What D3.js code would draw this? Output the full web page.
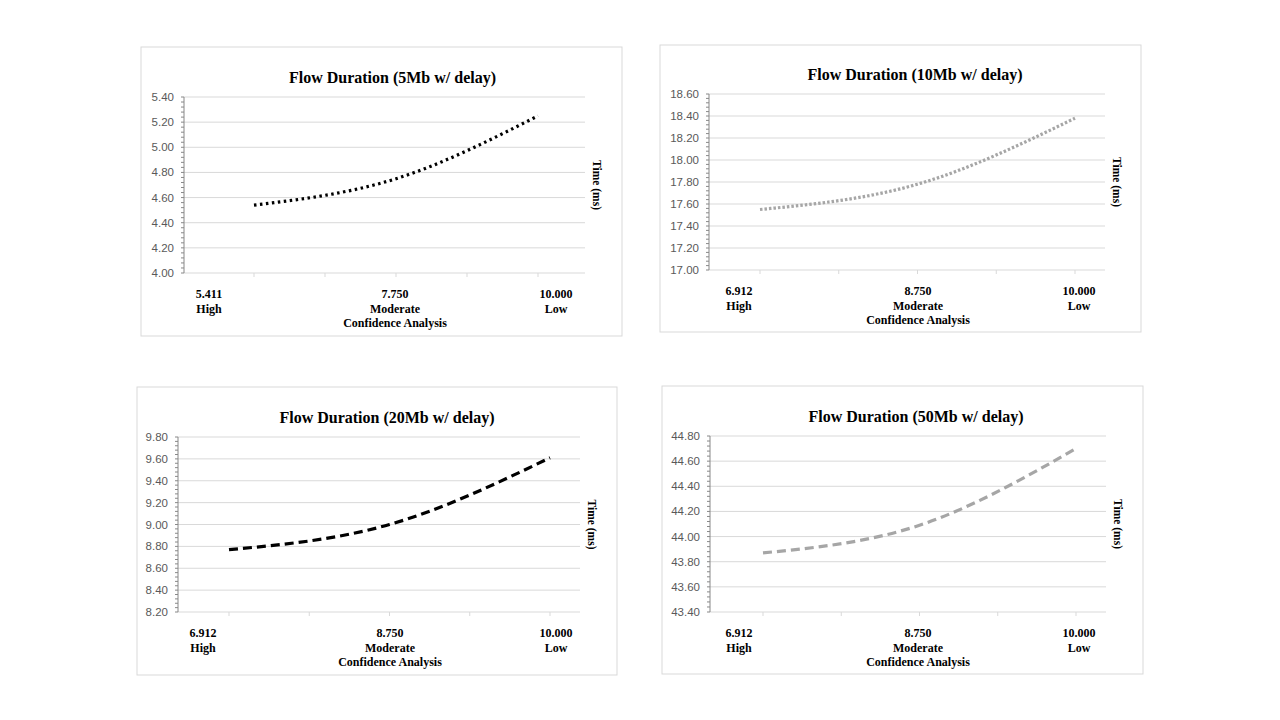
<!DOCTYPE html>
<html><head><meta charset="utf-8">
<script src="https://cdn.jsdelivr.net/npm/d3@7"></script>
<style>body{margin:0;background:#fff}</style>
</head><body>
<div id="chart"></div>
<script>
// chart data
var titles = ["Flow Duration (5Mb w/ delay)", "Flow Duration (10Mb w/ delay)", "Flow Duration (20Mb w/ delay)", "Flow Duration (50Mb w/ delay)"];
var xLabels = [["5.411", "7.750", "10.000"], ["6.912", "8.750", "10.000"], ["6.912", "8.750", "10.000"], ["6.912", "8.750", "10.000"]];
var levels = ["High", "Moderate", "Low"];
var series = [[4.54, 4.75, 5.25], [17.55, 17.78, 18.38], [8.77, 9.00, 9.61], [43.87, 44.09, 44.70]];
var yMin = [4.0, 17.0, 8.2, 43.4];
var yMax = [5.4, 18.6, 9.8, 44.8];
var yStep = [0.2, 0.2, 0.2, 0.2];

// layout per panel
var boxes = [
  {x: 141, y: 47, w: 481, h: 289, l: 184, r: 585, t: 97, b: 273, p0: 254, p2: 538, lab: [209, 395, 556]},
  {x: 660, y: 45, w: 481, h: 287, l: 709, r: 1105, t: 94, b: 270, p0: 760, p2: 1075, lab: [739, 918, 1079]},
  {x: 137, y: 387, w: 480, h: 288, l: 178, r: 580, t: 437, b: 612, p0: 229, p2: 550, lab: [203, 390, 556]},
  {x: 662, y: 386, w: 481, h: 288, l: 710, r: 1106, t: 436, b: 612, p0: 763, p2: 1076, lab: [739, 918, 1079]}
];
var styles = [
  {color: "#000", dash: "2.5,3.5", width: 3.2},
  {color: "#a6a6a6", dash: "2.5,2", width: 3.2},
  {color: "#000", dash: "9,5", width: 3.2},
  {color: "#a6a6a6", dash: "9,5", width: 3.2}
];

var svg = d3.select("#chart").append("svg").attr("width", 1280).attr("height", 720);

boxes.forEach(function(bx, i) {
  var g = svg.append("g");
  g.append("rect").attr("x", bx.x).attr("y", bx.y).attr("width", bx.w).attr("height", bx.h)
    .attr("fill", "#fff").attr("stroke", "#d9d9d9");

  var y = d3.scaleLinear().domain([yMin[i], yMax[i]]).range([bx.b, bx.t]);
  var x = d3.scalePoint().domain(d3.range(3)).range([bx.p0, bx.p2]);
  var ticks = d3.range(yMin[i], yMax[i] + 1e-9, yStep[i]);

  // gridlines
  g.selectAll(".grid").data(ticks).enter().append("line")
    .attr("x1", bx.l).attr("x2", bx.r)
    .attr("y1", function(d) { return y(d); }).attr("y2", function(d) { return y(d); })
    .attr("stroke", "#d9d9d9");

  // y axis with minor ticks
  var minor = d3.range(yMin[i], yMax[i] + 1e-9, yStep[i] / 5);
  g.selectAll(".mt").data(minor).enter().append("line")
    .attr("x1", bx.l - 3).attr("x2", bx.l)
    .attr("y1", function(d) { return y(d); }).attr("y2", function(d) { return y(d); })
    .attr("stroke", "#888");
  g.append("line").attr("x1", bx.l).attr("x2", bx.l).attr("y1", bx.t).attr("y2", bx.b).attr("stroke", "#888");
  g.selectAll(".yl").data(ticks).enter().append("text")
    .attr("x", bx.l - 10).attr("y", function(d) { return y(d) + 4; })
    .attr("text-anchor", "end").attr("font-family", "Liberation Sans, Arial").attr("font-size", 11.5)
    .attr("fill", "#595959").text(function(d) { return d.toFixed(2); });

  // x minor ticks
  var step = (bx.p2 - bx.p0) / 4;
  g.selectAll(".xt").data(d3.range(5)).enter().append("line")
    .attr("x1", function(d) { return bx.p0 + d * step; }).attr("x2", function(d) { return bx.p0 + d * step; })
    .attr("y1", bx.b).attr("y2", bx.b + 4).attr("stroke", "#d9d9d9");

  // line
  var line = d3.line().x(function(d, j) { return x(j); }).y(function(d) { return y(d); }).curve(d3.curveMonotoneX);
  g.append("path").datum(series[i]).attr("d", line).attr("fill", "none")
    .attr("stroke", styles[i].color).attr("stroke-width", styles[i].width)
    .attr("stroke-dasharray", styles[i].dash);

  var serif = "Liberation Serif, Times New Roman, serif";
  g.append("text").attr("x", (bx.l + bx.r) / 2 + 8).attr("y", bx.t - 14).attr("text-anchor", "middle")
    .attr("font-family", serif).attr("font-weight", "bold").attr("font-size", 16).text(titles[i]);

  bx.lab.forEach(function(lx, j) {
    g.append("text").attr("x", lx).attr("y", bx.b + 25).attr("text-anchor", "middle")
      .attr("font-family", serif).attr("font-weight", "bold").attr("font-size", 12).text(xLabels[i][j]);
    g.append("text").attr("x", lx).attr("y", bx.b + 40).attr("text-anchor", "middle")
      .attr("font-family", serif).attr("font-weight", "bold").attr("font-size", 12).text(levels[j]);
  });
  g.append("text").attr("x", bx.lab[1]).attr("y", bx.b + 54).attr("text-anchor", "middle")
    .attr("font-family", serif).attr("font-weight", "bold").attr("font-size", 12).text("Confidence Analysis");

  g.append("text").attr("transform", "translate(" + (bx.r + 8) + "," + ((bx.t + bx.b) / 2) + ") rotate(90)")
    .attr("text-anchor", "middle").attr("font-family", serif).attr("font-weight", "bold").attr("font-size", 11.5)
    .text("Time (ms)");
});
</script>
</body></html>
